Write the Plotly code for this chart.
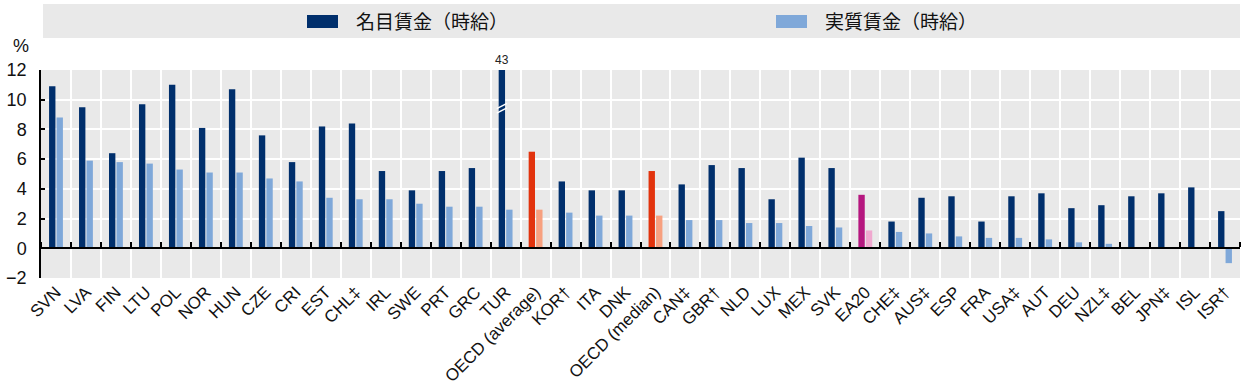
import plotly.graph_objects as go

categories = ["SVN", "LVA", "FIN", "LTU", "POL", "NOR", "HUN", "CZE", "CRI", "EST",
              "CHL‡", "IRL", "SWE", "PRT", "GRC", "TUR", "OECD (average)", "KOR†", "ITA", "DNK",
              "OECD (median)", "CAN‡", "GBR†", "NLD", "LUX", "MEX", "SVK", "EA20", "CHE‡", "AUS‡",
              "ESP", "FRA", "USA‡", "AUT", "DEU", "NZL‡", "BEL", "JPN‡", "ISL", "ISR†"]

nominal = [10.9, 9.5, 6.4, 9.7, 11.0, 8.1, 10.7, 7.6, 5.8, 8.2,
           8.4, 5.2, 3.9, 5.2, 5.4, 43.0, 6.5, 4.5, 3.9, 3.9,
           5.2, 4.3, 5.6, 5.4, 3.3, 6.1, 5.4, 3.6, 1.8, 3.4,
           3.5, 1.8, 3.5, 3.7, 2.7, 2.9, 3.5, 3.7, 4.1, 2.5]

real = [8.8, 5.9, 5.8, 5.7, 5.3, 5.1, 5.1, 4.7, 4.5, 3.4,
        3.3, 3.3, 3.0, 2.8, 2.8, 2.6, 2.6, 2.4, 2.2, 2.2,
        2.2, 1.9, 1.9, 1.7, 1.7, 1.5, 1.4, 1.2, 1.1, 1.0,
        0.8, 0.7, 0.7, 0.6, 0.4, 0.3, None, None, 0.0, -1.0]

series_names = ["名目賃金（時給）", "実質賃金（時給）"]

NAVY = "#002F6C"
LIGHT = "#7FA8D9"
RED = "#E2330D"
SALMON = "#F7A07F"
MAGENTA = "#B5177F"
PINK = "#F0A8CF"

def nom_color(c):
    if c.startswith("OECD"):
        return RED
    if c == "EA20":
        return MAGENTA
    return NAVY

def real_color(c):
    if c.startswith("OECD"):
        return SALMON
    if c == "EA20":
        return PINK
    return LIGHT

y_min, y_max = -2, 12
n = len(categories)
L, R, T, B = 41, 4, 70, 109
W, H = 1244, 387
PW = W - L - R
PH = H - T - B

def px_x(px):
    return (px - L) / PW

def px_y(py):
    return (H - B - py) / PH

fig = go.Figure()
fig.add_trace(go.Bar(x=categories, y=nominal, name=series_names[0],
                     marker=dict(color=[nom_color(c) for c in categories], line=dict(width=0)),
                     showlegend=False))
fig.add_trace(go.Bar(x=categories, y=real, name=series_names[1],
                     marker=dict(color=[real_color(c) for c in categories], line=dict(width=0)),
                     showlegend=False))
# invisible helper trace for the zero-line axis with boundary ticks
fig.add_trace(go.Scatter(x=[-0.5, n - 0.5], y=[0, 0], xaxis="x2", yaxis="y",
                         mode="lines", line=dict(width=0), hoverinfo="skip", showlegend=False))

fig.update_layout(
    width=W, height=H,
    margin=dict(l=L, r=R, t=T, b=B, autoexpand=False),
    paper_bgcolor="white",
    plot_bgcolor="#E9E9E9",
    barmode="group",
    bargap=0.5,
    bargroupgap=0.15,
    font=dict(family="Liberation Sans, Arial, sans-serif", color="#111111"),
    xaxis=dict(
        type="category", categoryorder="array", categoryarray=categories,
        range=[-0.5, n - 0.5], automargin=False,
        tickangle=-45, tickfont=dict(size=17, color="#111111"),
        showgrid=True, gridcolor="white", gridwidth=2, tickson="boundaries",
        ticks="", showline=False, zeroline=False,
    ),
    xaxis2=dict(
        type="linear", overlaying="x", anchor="free", side="top",
        position=(0 - y_min) / (y_max - y_min), automargin=False,
        range=[-0.5, n - 0.5],
        tickvals=[i - 0.5 for i in range(n + 1)],
        ticks="outside", ticklen=5, tickwidth=1.5, tickcolor="black",
        showticklabels=False, showgrid=False, zeroline=False,
        showline=True, linecolor="black", linewidth=2,
    ),
    yaxis=dict(
        range=[y_min, y_max], dtick=2, tick0=0, automargin=False,
        tickfont=dict(size=18, color="#111111"),
        showgrid=True, gridcolor="white", gridwidth=2,
        zeroline=False,
        showline=True, linecolor="black", linewidth=1.5,
        ticks="inside", ticklen=4, tickwidth=1.5, tickcolor="black",
        ticklabelstandoff=9,
    ),
)

# legend band
fig.add_shape(type="rect", xref="paper", yref="paper", x0=px_x(43), x1=px_x(1240),
              y0=px_y(38), y1=px_y(4), fillcolor="#E9E9E9", line=dict(width=0), layer="below")
legend_items = [(series_names[0], NAVY, 307), (series_names[1], LIGHT, 776)]
for name, col, px in legend_items:
    fig.add_shape(type="rect", xref="paper", yref="paper", x0=px_x(px), x1=px_x(px + 31),
                  y0=px_y(28), y1=px_y(15), fillcolor=col, line=dict(width=0))
    fig.add_annotation(text=name, xref="paper", yref="paper",
                       x=px_x(px + 47), y=px_y(21), xanchor="left", yanchor="middle",
                       showarrow=False,
                       font=dict(family="Noto Sans CJK JP", size=19, color="#111111"))

# percent label
fig.add_annotation(text="%", xref="paper", yref="paper", x=px_x(21), y=px_y(46),
                   xanchor="center", yanchor="middle", showarrow=False,
                   font=dict(size=18, color="#111111"))

# TUR off-scale value label and axis break marks
tur_idx = categories.index("TUR")
bar_off = -0.125
fig.add_annotation(text=f"{nominal[tur_idx]:.0f}", x=tur_idx + bar_off, y=y_max, xref="x", yref="y",
                   yshift=10, showarrow=False, font=dict(size=12, color="#222222"),
                   xanchor="center", yanchor="middle")
for dy in (0.0, 0.3):
    fig.add_shape(type="line", xref="x", yref="y",
                  x0=tur_idx + bar_off - 0.17, x1=tur_idx + bar_off + 0.17,
                  y0=9.1 + dy, y1=9.45 + dy, line=dict(color="white", width=1.5))

fig.write_html("out.html", config={"displayModeBar": False},
               post_script="document.body.style.margin='0px';document.body.style.padding='0px';")
